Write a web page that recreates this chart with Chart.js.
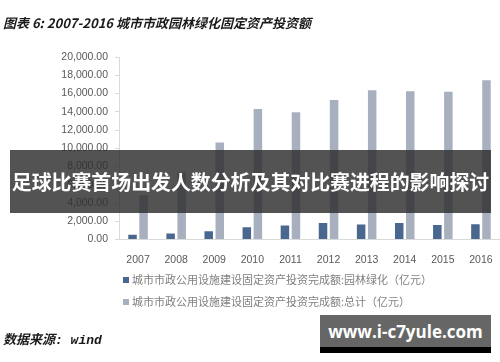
<!DOCTYPE html>
<html>
<head>
<meta charset="utf-8">
<script src="https://cdn.jsdelivr.net/npm/chart.js@4"></script>
<style>
    html, body { margin: 0; padding: 0; background: #fff; }
    #wrap { position: relative; width: 500px; height: 362px; overflow: hidden; }
    #chart { position: absolute; left: 0; top: 0; }
    .title {
        position: absolute; left: 3px; top: 13px;
        font: italic bold 13px "Noto Sans CJK SC", sans-serif;
        color: #1a1a1a; white-space: nowrap;
    }
    .source {
        position: absolute; left: 3px; top: 329px;
        font: italic bold 13px "Liberation Mono", "Noto Sans CJK SC", sans-serif;
        color: #1a1a1a; white-space: nowrap;
    }
    .banner {
        position: absolute; left: 10px; top: 150px; width: 481px; height: 63px;
        background: rgba(45, 45, 45, 0.82);
        display: flex; align-items: center; justify-content: center;
        color: #fff; font: bold 19.9px "Noto Sans CJK SC", sans-serif; white-space: nowrap;
    }
    .mark {
        position: absolute; left: 320px; top: 315px; width: 171px; height: 32px;
        background: #666; border-bottom: 6px solid #000;
        display: flex; align-items: center; justify-content: center;
        color: #fff; font: bold 17px "Open Sans", sans-serif; white-space: nowrap;
    }
</style>
</head>
<body>
<div id="wrap">
    <canvas id="chart" width="500" height="362"></canvas>
    <div class="title">图表 6: 2007-2016 城市市政园林绿化固定资产投资额</div>
    <div class="banner">足球比赛首场出发人数分析及其对比赛进程的影响探讨</div>
    <div class="source">数据来源: wind</div>
    <div class="mark">www.i-c7yule.com</div>
</div>
<script>
    const years = ['2007', '2008', '2009', '2010', '2011', '2012', '2013', '2014', '2015', '2016'];
    const greening = [525, 650, 915, 1355, 1546, 1798, 1647, 1817, 1594, 1670];
    const total = [4850, 7368, 10641, 14300, 13934, 15296, 16350, 16245, 16204, 17460];
    const seriesNames = [
        '城市市政公用设施建设固定资产投资完成额:园林绿化（亿元）',
        '城市市政公用设施建设固定资产投资完成额:总计（亿元）'
    ];

    // legend drawn by hand, two left-aligned rows
    const legendRows = {
        id: 'legendRows',
        afterDraw(chart) {
            const ctx = chart.ctx;
            ctx.save();
            ctx.font = '11px "Noto Sans CJK SC", sans-serif';
            ctx.textBaseline = 'middle';
            chart.data.datasets.forEach((ds, i) => {
                const y = 280 + i * 22;
                ctx.fillStyle = ds.backgroundColor;
                ctx.fillRect(123, y - 3, 6, 6);
                ctx.fillStyle = '#808080';
                ctx.fillText(ds.label, 132, y);
            });
            ctx.restore();
        }
    };

    new Chart(document.getElementById('chart'), {
        type: 'bar',
        data: {
            labels: years,
            datasets: [
                { label: seriesNames[0], data: greening, backgroundColor: '#49678f' },
                { label: seriesNames[1], data: total, backgroundColor: '#a8b0bf' }
            ]
        },
        options: {
            responsive: false,
            animation: false,
            layout: { padding: { top: 57, right: 0, left: 0, bottom: 98.5 } },
            datasets: { bar: { categoryPercentage: 0.58, barPercentage: 0.77 } },
            plugins: {
                legend: { display: false },
                tooltip: { enabled: false }
            },
            scales: {
                x: {
                    afterFit: s => { s.height = 24; },
                    grid: { display: false },
                    border: { color: '#d9d9d9' },
                    ticks: { color: '#595959', font: { family: 'Liberation Sans', size: 10.5 }, padding: 6 }
                },
                y: {
                    min: 0,
                    max: 20000,
                    afterFit: s => { s.width = 119; },
                    grid: { drawOnChartArea: false, drawTicks: true, tickLength: 4, color: '#d9d9d9' },
                    border: { color: '#d9d9d9' },
                    ticks: {
                        stepSize: 2000,
                        color: '#595959',
                        padding: 7,
                        font: { family: 'Liberation Sans', size: 10.5 },
                        callback: v => v.toLocaleString('en-US', { minimumFractionDigits: 2, maximumFractionDigits: 2 })
                    }
                }
            }
        },
        plugins: [legendRows]
    });
</script>
</body>
</html>
